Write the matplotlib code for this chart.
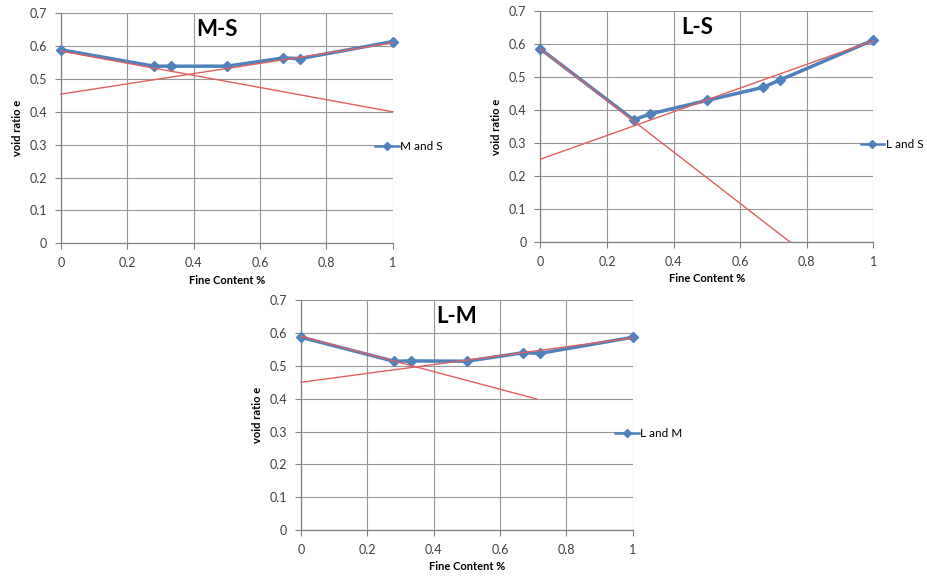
import matplotlib
matplotlib.use("Agg")
import matplotlib.pyplot as plt
from matplotlib.ticker import FuncFormatter

plt.rcParams['font.family'] = ['Lato', 'DejaVu Sans']

fine_content = [0, 0.28, 0.33, 0.5, 0.67, 0.72, 1]

ms_void = [0.589, 0.539, 0.539, 0.539, 0.564, 0.562, 0.614]
ls_void = [0.585, 0.370, 0.388, 0.429, 0.469, 0.491, 0.612]
lm_void = [0.587, 0.514, 0.515, 0.514, 0.540, 0.538, 0.587]

# red trend lines
ms_trend_x = [[0, 1], [0, 1]]
ms_trend_y = [[0.585, 0.400], [0.454, 0.610]]
ls_trend_x = [[0, 0.75], [0, 1]]
ls_trend_y = [[0.585, 0.0], [0.251, 0.610]]
lm_trend_x = [[0, 0.71], [0, 1]]
lm_trend_y = [[0.590, 0.399], [0.450, 0.585]]

titles = ["M-S", "L-S", "L-M"]
legends = ["M and S", "L and S", "L and M"]
x_ticks = [0, 0.2, 0.4, 0.6, 0.8, 1]
y_ticks = [0, 0.1, 0.2, 0.3, 0.4, 0.5, 0.6, 0.7]

BLUE = '#4F81BD'
RED = '#E0605F'
GRID = '#969696'

fig = plt.figure(figsize=(9.27, 5.79), dpi=100)
positions = [
    [0.0658, 0.580, 0.358, 0.397],
    [0.583, 0.582, 0.359, 0.399],
    [0.3247, 0.0846, 0.358, 0.397],
]
legend_x = [0.946, 0.962, 0.946]
datasets = [
    (ms_void, ms_trend_x, ms_trend_y),
    (ls_void, ls_trend_x, ls_trend_y),
    (lm_void, lm_trend_x, lm_trend_y),
]

fmt = FuncFormatter(lambda v, p: f"{v:g}")

for pos, lx, (vals, tx, ty), title, leg in zip(positions, legend_x, datasets, titles, legends):
    ax = fig.add_axes(pos)
    ax.set_xlim(0, 1)
    ax.set_ylim(0, 0.7)
    ax.set_xticks(x_ticks)
    ax.set_yticks(y_ticks)
    ax.xaxis.set_major_formatter(fmt)
    ax.yaxis.set_major_formatter(fmt)
    ax.grid(True, color=GRID, linewidth=0.8)
    ax.set_axisbelow(True)
    for s in ['top', 'right']:
        ax.spines[s].set_visible(False)
    for s in ['left', 'bottom']:
        ax.spines[s].set_color('#808080')
        ax.spines[s].set_linewidth(0.9)
    ax.tick_params(direction='out', length=4, width=0.8, color='#808080',
                   labelsize=9, labelcolor='#404040', pad=6)
    line, = ax.plot(fine_content, vals, color=BLUE, linewidth=2.5, marker='D',
                    markersize=5, markerfacecolor=BLUE, markeredgecolor=BLUE,
                    label=leg, zorder=3, clip_on=False)
    for xs, ys in zip(tx, ty):
        ax.plot(xs, ys, color=RED, linewidth=1.0, zorder=4, clip_on=False)
    ax.text(0.47, 0.93, title, transform=ax.transAxes, ha='center', va='center',
            fontsize=16, fontweight='bold', color='black')
    ax.set_xlabel("Fine Content %", fontsize=8, fontweight='bold', labelpad=4)
    ax.set_ylabel("void ratio e", fontsize=8, fontweight='bold', labelpad=5)
    lg = ax.legend(handles=[line], loc='center left', bbox_to_anchor=(lx, 0.42),
                   frameon=False, fontsize=8.5, handlelength=2.0, handletextpad=0.15,
                   borderpad=0, borderaxespad=0, markerscale=0.9)
    for h in lg.legend_handles:
        h.set_linewidth(1.8)

fig.savefig("out.png", dpi=100, facecolor='white')
